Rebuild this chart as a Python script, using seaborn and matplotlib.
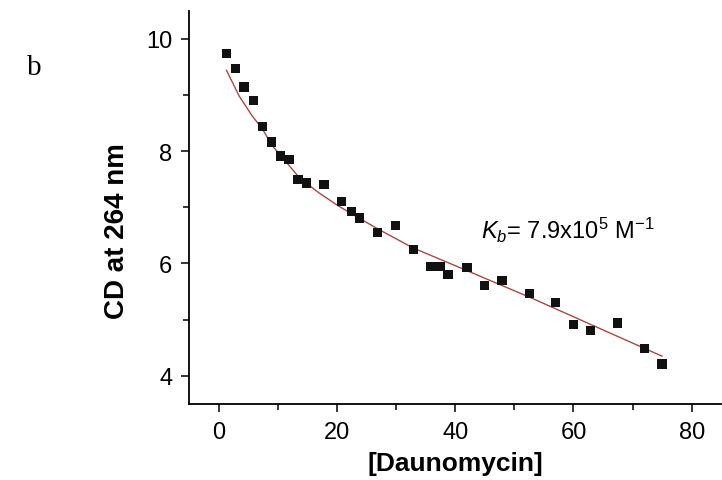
import matplotlib
matplotlib.use("Agg")
import matplotlib.pyplot as plt
import seaborn as sns
import pandas as pd

# Daunomycin titration, CD signal at 264 nm
daunomycin = [1.3, 2.8, 4.3, 5.9, 7.4, 8.9, 10.4, 11.9, 13.4, 14.8, 17.8, 20.8, 22.4, 23.8, 26.9,
              29.9, 32.9, 35.9, 37.4, 38.8, 42.0, 45.0, 47.9, 52.6, 57.0, 60.0, 62.9, 67.5, 72.0, 75.0]
cd_264 = [9.74, 9.47, 9.14, 8.90, 8.44, 8.16, 7.91, 7.85, 7.50, 7.43, 7.41, 7.10, 6.93, 6.81, 6.55,
          6.68, 6.25, 5.95, 5.95, 5.80, 5.93, 5.61, 5.70, 5.46, 5.31, 4.92, 4.81, 4.94, 4.49, 4.21]

# binding fit curve
fit_x = [1.3, 3.45, 5.7, 7.4, 9.1, 11.3, 13.6, 16.9, 20.3, 23.7, 27.0, 32.8, 41.6, 52.8, 64.1, 75.0]
fit_y = [9.44, 8.98, 8.62, 8.39, 8.09, 7.82, 7.53, 7.26, 7.02, 6.81, 6.61, 6.28, 5.89, 5.39, 4.86, 4.35]

x_ticks = [0, 20, 40, 60, 80]
y_ticks = [4, 6, 8, 10]

df = pd.DataFrame({"daunomycin": daunomycin, "cd": cd_264})
fit = pd.DataFrame({"daunomycin": fit_x, "cd": fit_y})

sns.set_style("ticks")
plt.rcParams["font.family"] = ["Liberation Sans", "DejaVu Sans"]
plt.rcParams["mathtext.fontset"] = "custom"
plt.rcParams["mathtext.rm"] = "Liberation Sans"
plt.rcParams["mathtext.it"] = "Liberation Sans:italic"
plt.rcParams["text.color"] = "black"
plt.rcParams["axes.labelcolor"] = "black"
plt.rcParams["xtick.color"] = "black"
plt.rcParams["ytick.color"] = "black"

fig = plt.figure(figsize=(7.22, 4.81), dpi=100)
ax = fig.add_axes([0.262, 0.158, 0.737, 0.818])

sns.lineplot(data=fit, x="daunomycin", y="cd", color="#a84848", lw=1.0, sort=False,
             estimator=None, ax=ax)
sns.scatterplot(data=df, x="daunomycin", y="cd", marker="s", s=45, color="#111111",
                edgecolor="none", ax=ax, zorder=3)

ax.set_xlim(-5, 85)
ax.set_ylim(3.5, 10.5)
ax.set_xticks(x_ticks)
ax.set_yticks(y_ticks)
ax.set_xticks([10, 30, 50, 70], minor=True)
ax.set_yticks([5, 7, 9], minor=True)
ax.tick_params(which="major", length=6, width=1.1, labelsize=17, pad=6)
ax.tick_params(which="minor", length=4, width=1.1)
sns.despine(ax=ax)
for s in ["left", "bottom"]:
    ax.spines[s].set_linewidth(1.3)
    ax.spines[s].set_color("black")

ax.set_xlabel("[Daunomycin]", fontsize=19, fontweight="bold", labelpad=6)
ax.set_ylabel("CD at 264 nm", fontsize=20, fontweight="bold")
ax.yaxis.set_label_coords(-0.111, 0.443)

ax.text(44.4, 6.45, r"$K_b$= 7.9x10$^5$ M$^{-1}$", fontsize=17)
fig.text(0.038, 0.845, "b", fontsize=21, family=["Liberation Serif", "DejaVu Serif"])

fig.savefig("out.png", dpi=100)
